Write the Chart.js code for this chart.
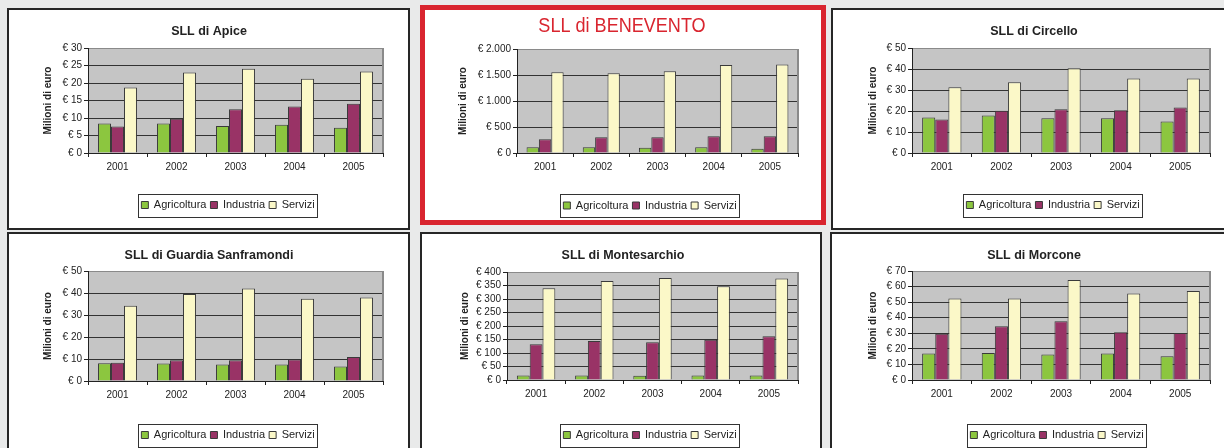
<!DOCTYPE html>
<html>
<head>
<meta charset="utf-8">
<script src="https://cdn.jsdelivr.net/npm/chart.js@4.4.0/dist/chart.umd.min.js"></script>
<style>
  body { margin: 0; width: 1224px; height: 448px; background: #e9eaea; position: relative; overflow: hidden; }
  .panel { position: absolute; box-sizing: border-box; background: #fff; border: 2px solid #262626; }
  .panel.red { border: 5px solid #d9252f; }
  .box { position: absolute; }
</style>
</head>
<body>
<div class="panel" style="left:7px;top:8px;width:403px;height:222px"></div>
<div class="panel red" style="left:420px;top:5px;width:406px;height:220px"></div>
<div class="panel" style="left:831px;top:8px;width:400px;height:222px"></div>
<div class="panel" style="left:7px;top:232px;width:403px;height:230px"></div>
<div class="panel" style="left:420px;top:232px;width:402px;height:230px"></div>
<div class="panel" style="left:830px;top:232px;width:400px;height:230px"></div>

<div class="box" style="left:9px;top:10px"><canvas id="apice" width="400" height="230"></canvas></div>
<div class="box" style="left:425px;top:10px"><canvas id="benevento" width="396" height="230"></canvas></div>
<div class="box" style="left:833px;top:10px"><canvas id="circello" width="400" height="230"></canvas></div>
<div class="box" style="left:9px;top:234px"><canvas id="guardia" width="400" height="230"></canvas></div>
<div class="box" style="left:422px;top:234px"><canvas id="montesarchio" width="398" height="230"></canvas></div>
<div class="box" style="left:832px;top:234px"><canvas id="morcone" width="400" height="230"></canvas></div>

<script>
// Categories and series (milioni di euro)
const years = ['2001', '2002', '2003', '2004', '2005'];
const seriesNames = ['Agricoltura', 'Industria', 'Servizi'];

const apiceAgri = [8.4, 8.4, 7.7, 8.1, 7.2];
const apiceInd = [7.6, 9.8, 12.5, 13.3, 14.1];
const apiceServ = [18.7, 23.0, 24.1, 21.2, 23.3];

const beneventoAgri = [110, 110, 103, 110, 84];
const beneventoInd = [265, 303, 303, 323, 323];
const beneventoServ = [1555, 1535, 1574, 1690, 1703];

const circelloAgri = [16.9, 17.9, 16.5, 16.5, 15.0];
const circelloInd = [16.0, 20.1, 20.8, 20.3, 21.7];
const circelloServ = [31.3, 33.7, 40.4, 35.5, 35.5];

const guardiaAgri = [8.1, 8.0, 7.5, 7.5, 6.6];
const guardiaInd = [8.3, 9.4, 9.4, 9.8, 10.9];
const guardiaServ = [34.2, 39.6, 42.0, 37.4, 37.9];

const montesarchioAgri = [17, 17, 16, 17, 17];
const montesarchioInd = [132, 144, 140, 149, 162];
const montesarchioServ = [340, 367, 378, 347, 376];

const morconeAgri = [17.0, 17.4, 16.4, 17.0, 15.3];
const morconeInd = [29.7, 34.5, 37.7, 30.6, 30.2];
const morconeServ = [52.3, 52.3, 64.2, 55.6, 57.1];

// y axis: max and step for each panel
const apiceTicks = [30, 5];
const beneventoTicks = [2000, 500];
const circelloTicks = [50, 10];
const guardiaTicks = [50, 10];
const montesarchioTicks = [400, 50];
const morconeTicks = [70, 10];

const colors = ['#8cc63f', '#993366', '#fbf8c8'];
const font = "'Liberation Sans', Arial, sans-serif";
const ink = '#222';
const legPad = 4;

function euro(v) {
    return '€ ' + String(v).replace(/\B(?=(\d{3})+(?!\d))/g, '.');
}

// grey plot background, grey right edge, box round the legend, condensed red title
const frame = {
    id: 'frame',
    beforeDraw(chart) {
        const a = chart.chartArea, ctx = chart.ctx;
        ctx.save();
        ctx.fillStyle = '#c5c5c5';
        ctx.fillRect(a.left, a.top, a.right - a.left, a.bottom - a.top);
        ctx.restore();
    },
    afterUpdate(chart) {
        const lg = chart.legend, dx = chart.options.legendShift || 0;
        lg.left -= dx; lg.right -= dx;
        lg.legendHitBoxes.forEach(h => { h.left -= dx; });
    },
    afterDraw(chart) {
        const a = chart.chartArea, ctx = chart.ctx;
        ctx.save();
        ctx.strokeStyle = '#8a8a8a';
        ctx.lineWidth = 2;
        ctx.beginPath();
        ctx.moveTo(a.right, a.top);
        ctx.lineTo(a.right, a.bottom);
        ctx.stroke();
        const hb = chart.legend.legendHitBoxes;
        const first = hb[0], last = hb[hb.length - 1];
        ctx.strokeStyle = '#333';
        ctx.lineWidth = 1;
        ctx.strokeRect(Math.round(first.left - 3) + 0.5, Math.round(first.top - 6) + 0.5,
            Math.round(last.left + last.width - first.left + 6), Math.round(first.height + 12));
        const bt = chart.options.bigTitle;
        if (bt) {
            ctx.translate(bt.x, bt.y);
            ctx.scale(0.86, 1);
            ctx.fillStyle = '#d9252f';
            ctx.font = '21px ' + font;
            ctx.textAlign = 'center';
            ctx.textBaseline = 'middle';
            ctx.fillText(bt.text, 0, 0);
        }
        ctx.restore();
    }
};

function makeChart(id, p) {
    const H = 230;
    const big = !!p.big;
    const fs = 12.5;
    const lineH = fs * 1.2;
    const padL = 2 * p.tx - p.R;
    const legTop = p.ly - legPad - 5.5;
    const yMax = p.ticks[0];
    new Chart(document.getElementById(id), {
        type: 'bar',
        data: {
            labels: years,
            datasets: p.data.map((d, i) => ({
                label: seriesNames[i],
                data: d,
                backgroundColor: colors[i],
                borderColor: '#3a3a3a',
                borderWidth: 1,
                categoryPercentage: 0.66,
                barPercentage: 1.0
            }))
        },
        plugins: [frame],
        options: {
            responsive: false,
            animation: false,
            legendShift: (p.L + p.R) / 2 - p.lx,
            bigTitle: big ? { text: p.title, x: p.tx, y: p.ty } : null,
            layout: { padding: { left: padL, right: p.W - p.R, top: big ? p.T : 0, bottom: H - (legTop + 21 + legPad) } },
            plugins: {
                title: {
                    display: !big,
                    text: p.title,
                    color: ink,
                    font: { family: font, size: fs, weight: 'bold', lineHeight: 1.2 },
                    padding: { top: p.ty - lineH / 2, bottom: p.T - p.ty - lineH / 2 }
                },
                legend: {
                    position: 'bottom',
                    fullSize: false,
                    labels: { boxWidth: 7, boxHeight: 7, padding: legPad, color: ink, font: { family: font, size: 11 } }
                },
                tooltip: { enabled: false }
            },
            scales: {
                x: {
                    grid: { drawOnChartArea: false, drawTicks: true, tickLength: 4, tickColor: ink },
                    border: { color: ink },
                    ticks: { padding: 4, color: ink, font: { family: font, size: 10 } },
                    afterFit: s => { s.height = legTop - p.B; }
                },
                y: {
                    min: 0,
                    max: yMax,
                    ticks: { stepSize: p.ticks[1], autoSkip: false, padding: 2, color: ink, font: { family: font, size: 10 }, callback: v => euro(v) },
                    grid: { color: c => (c.tick && c.tick.value === yMax ? '#8a8a8a' : '#333'), tickLength: 4, tickColor: ink },
                    border: { color: ink },
                    title: {
                        display: true,
                        text: 'Milioni di euro',
                        color: ink,
                        font: { family: font, size: 10, weight: 'bold', lineHeight: 1.2 },
                        padding: { top: p.yTitleX - padL - 6, bottom: 0 }
                    },
                    afterFit: s => { s.width = p.L - padL; }
                }
            }
        }
    });
}

makeChart('apice', { title: 'SLL di Apice', data: [apiceAgri, apiceInd, apiceServ], ticks: apiceTicks,
    W: 400, L: 79, T: 38, R: 374, B: 143, tx: 200, ty: 21.5, lx: 219, ly: 195, yTitleX: 39 });
makeChart('benevento', { title: 'SLL di BENEVENTO', big: true, data: [beneventoAgri, beneventoInd, beneventoServ], ticks: beneventoTicks,
    W: 396, L: 92, T: 39, R: 373, B: 143, tx: 197, ty: 16, lx: 225, ly: 195.5, yTitleX: 38 });
makeChart('circello', { title: 'SLL di Circello', data: [circelloAgri, circelloInd, circelloServ], ticks: circelloTicks,
    W: 400, L: 79, T: 38, R: 377, B: 143, tx: 201, ty: 21.5, lx: 220, ly: 195, yTitleX: 40 });
makeChart('guardia', { title: 'SLL di Guardia Sanframondi', data: [guardiaAgri, guardiaInd, guardiaServ], ticks: guardiaTicks,
    W: 400, L: 79, T: 37, R: 374, B: 147, tx: 200, ty: 21.5, lx: 219, ly: 201, yTitleX: 39 });
makeChart('montesarchio', { title: 'SLL di Montesarchio', data: [montesarchioAgri, montesarchioInd, montesarchioServ], ticks: montesarchioTicks,
    W: 398, L: 85, T: 38, R: 376, B: 146, tx: 201, ty: 21.5, lx: 228, ly: 201, yTitleX: 43 });
makeChart('morcone', { title: 'SLL di Morcone', data: [morconeAgri, morconeInd, morconeServ], ticks: morconeTicks,
    W: 400, L: 80, T: 37, R: 378, B: 146, tx: 202, ty: 21.5, lx: 225, ly: 201, yTitleX: 41 });
</script>
</body>
</html>
